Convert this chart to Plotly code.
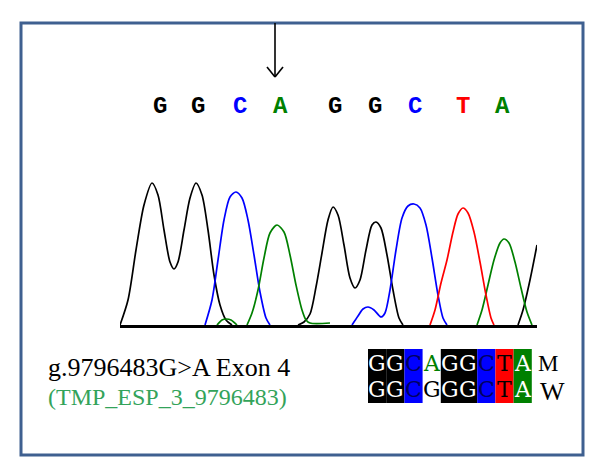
import plotly.graph_objects as go

# page offset of the plot inside the browser body (default 8px margin)
OFF = 8
W, H = 600 - 2 * OFF, 471 - 2 * OFF

# ---- data -------------------------------------------------------------
base_calls = ["G", "G", "C", "A", "G", "G", "C", "T", "A"]
base_scan = [40, 78, 120, 160, 215, 255, 295, 343, 382]

# chromatogram channels (scan position, signal intensity); None separates peaks
g_scan = [0, 8, 16, 24, 32, 38, 44, 50, 54, 58, 64, 70, 76, 82, 88, 94, 100, 106, 112, None,
          178, 184, 190, 196, 202, 208, 213, 218, 224, 230, 235, 240, 246, 252, 256, 261, 267, 273, 279, 283, None,
          398, 403, 410, 417]
g_int = [0, 25, 75, 120, 142, 130, 95, 63, 56, 63, 95, 127, 142, 130, 95, 50, 20, 5, 0, None,
         0, 3, 11, 38, 72, 105, 118, 110, 80, 47, 37, 45, 75, 100, 103, 97, 70, 35, 7, 0, None,
         0, 15, 45, 80]

c_scan = [85, 92, 98, 104, 110, 116, 122, 128, 134, 140, 146, 150, None,
          232, 238, 243, 248, 254, 261, 265, 270, 276, 282, 288, 294, 300, 306, 312, 318, 323, 327]
c_int = [0, 25, 65, 105, 128, 133, 127, 105, 70, 33, 7, 0, None,
         0, 9, 16, 18, 15, 8, 12, 35, 75, 107, 119, 121, 117, 100, 67, 30, 7, 0]

a_scan = [97, 102, 106, 111, 117, None,
          127, 132, 138, 144, 150, 157, 164, 170, 176, 182, 186, 190, 210, None,
          357, 362, 368, 374, 380, 384, 389, 395, 401, 407, 412]
a_int = [0, 5, 6, 5, 0, None,
         0, 12, 35, 67, 92, 100, 93, 70, 40, 15, 5, 2, 2, None,
         0, 15, 40, 65, 82, 86, 82, 63, 37, 13, 0]

t_scan = [310, 315, 321, 327, 333, 338, 343, 348, 354, 360, 366, 371, 374]
t_int = [0, 15, 42, 65, 93, 111, 117, 112, 93, 63, 30, 7, 0]

mutant_seq = "GGCAGGCTA"
wild_seq = "GGCGGGCTA"
row_labels = ["M", "W"]

mutation_label = "g.9796483G>A Exon 4"
variant_id = "(TMP_ESP_3_9796483)"

# ---- styling ----------------------------------------------------------
base_color = {"G": "#000000", "C": "#0000ff", "A": "#008000", "T": "#ff0000"}
box_text_color = {"G": "#ffffff", "C": "#000060", "A": "#ffffff", "T": "#000000"}


def px(x):
    return (x - OFF) / W


def py(y):
    return 1 - (y - OFF) / H


fig = go.Figure()
for xs, ys, b in [(g_scan, g_int, "G"), (c_scan, c_int, "C"),
                  (a_scan, a_int, "A"), (t_scan, t_int, "T")]:
    fig.add_trace(go.Scatter(x=xs, y=ys, mode="lines",
                             line=dict(color=base_color[b], width=1.7, shape="spline", smoothing=0.8),
                             hoverinfo="skip", showlegend=False, cliponaxis=False))

annotations = []
# base calls
for b, s in zip(base_calls, base_scan):
    annotations.append(dict(x=s, y=py(106), xref="x", yref="paper", text="<b>" + b + "</b>", showarrow=False,
                            font=dict(family="Liberation Mono", size=24, color=base_color[b]),
                            xanchor="center", yanchor="middle"))

# text labels
annotations.append(dict(x=px(46), y=py(367), xref="paper", yref="paper", text=mutation_label,
                        showarrow=False, xanchor="left", yanchor="middle",
                        font=dict(family="Liberation Serif", size=26, color="#000000")))
annotations.append(dict(x=px(46), y=py(397), xref="paper", yref="paper", text=variant_id,
                        showarrow=False, xanchor="left", yanchor="middle",
                        font=dict(family="Liberation Serif", size=24, color="#33a35a")))

shapes = []
# frame
shapes.append(dict(type="rect", xref="paper", yref="paper", x0=px(21), x1=px(583), y0=py(455), y1=py(23),
                   line=dict(color="#3f6090", width=3), layer="below"))
# arrow
ax = 275
shapes.append(dict(type="line", xref="paper", yref="paper", x0=px(ax), x1=px(ax), y0=py(23), y1=py(77),
                   line=dict(color="black", width=1.6)))
shapes.append(dict(type="line", xref="paper", yref="paper", x0=px(ax - 8), x1=px(ax), y0=py(67), y1=py(77),
                   line=dict(color="black", width=1.6)))
shapes.append(dict(type="line", xref="paper", yref="paper", x0=px(ax + 8), x1=px(ax), y0=py(67), y1=py(77),
                   line=dict(color="black", width=1.6)))

# sequence comparison boxes
cx0, cw = 368, 18.2
top, bot = 349, 403
rows_y = [363, 389]
for i, (m, w) in enumerate(zip(mutant_seq, wild_seq)):
    x0 = cx0 + i * cw
    same = m == w
    if same:
        shapes.append(dict(type="rect", xref="paper", yref="paper", x0=px(x0), x1=px(x0 + cw),
                           y0=py(bot), y1=py(top), fillcolor=base_color[m], line=dict(width=0)))
    for r, b in enumerate([m, w]):
        col = box_text_color[b] if same else base_color[b]
        annotations.append(dict(x=px(x0 + cw / 2), y=py(rows_y[r]), xref="paper", yref="paper", text=b,
                                showarrow=False, xanchor="center", yanchor="middle",
                                font=dict(family="DejaVu Serif", size=22, color=col)))
annotations.append(dict(x=px(548), y=py(363), xref="paper", yref="paper", text=row_labels[0],
                        showarrow=False, xanchor="center", yanchor="middle",
                        font=dict(family="Liberation Serif", size=23, color="black")))
annotations.append(dict(x=px(552), y=py(391), xref="paper", yref="paper", text=row_labels[1],
                        showarrow=False, xanchor="center", yanchor="middle",
                        font=dict(family="Liberation Serif", size=26, color="black")))

fig.update_layout(
    width=W, height=H, margin=dict(l=0, r=0, t=0, b=0),
    paper_bgcolor="white", plot_bgcolor="rgba(0,0,0,0)",
    xaxis=dict(domain=[px(120), px(537)], range=[0, 417], showgrid=False, zeroline=False,
               showticklabels=False, ticks="", showline=True, linecolor="black", linewidth=2.5,
               fixedrange=True),
    yaxis=dict(domain=[py(325), py(175)], range=[0, 150], showgrid=False, zeroline=False,
               showticklabels=False, ticks="", showline=False, fixedrange=True),
    annotations=annotations, shapes=shapes, showlegend=False,
)

fig.write_html("out.html")
